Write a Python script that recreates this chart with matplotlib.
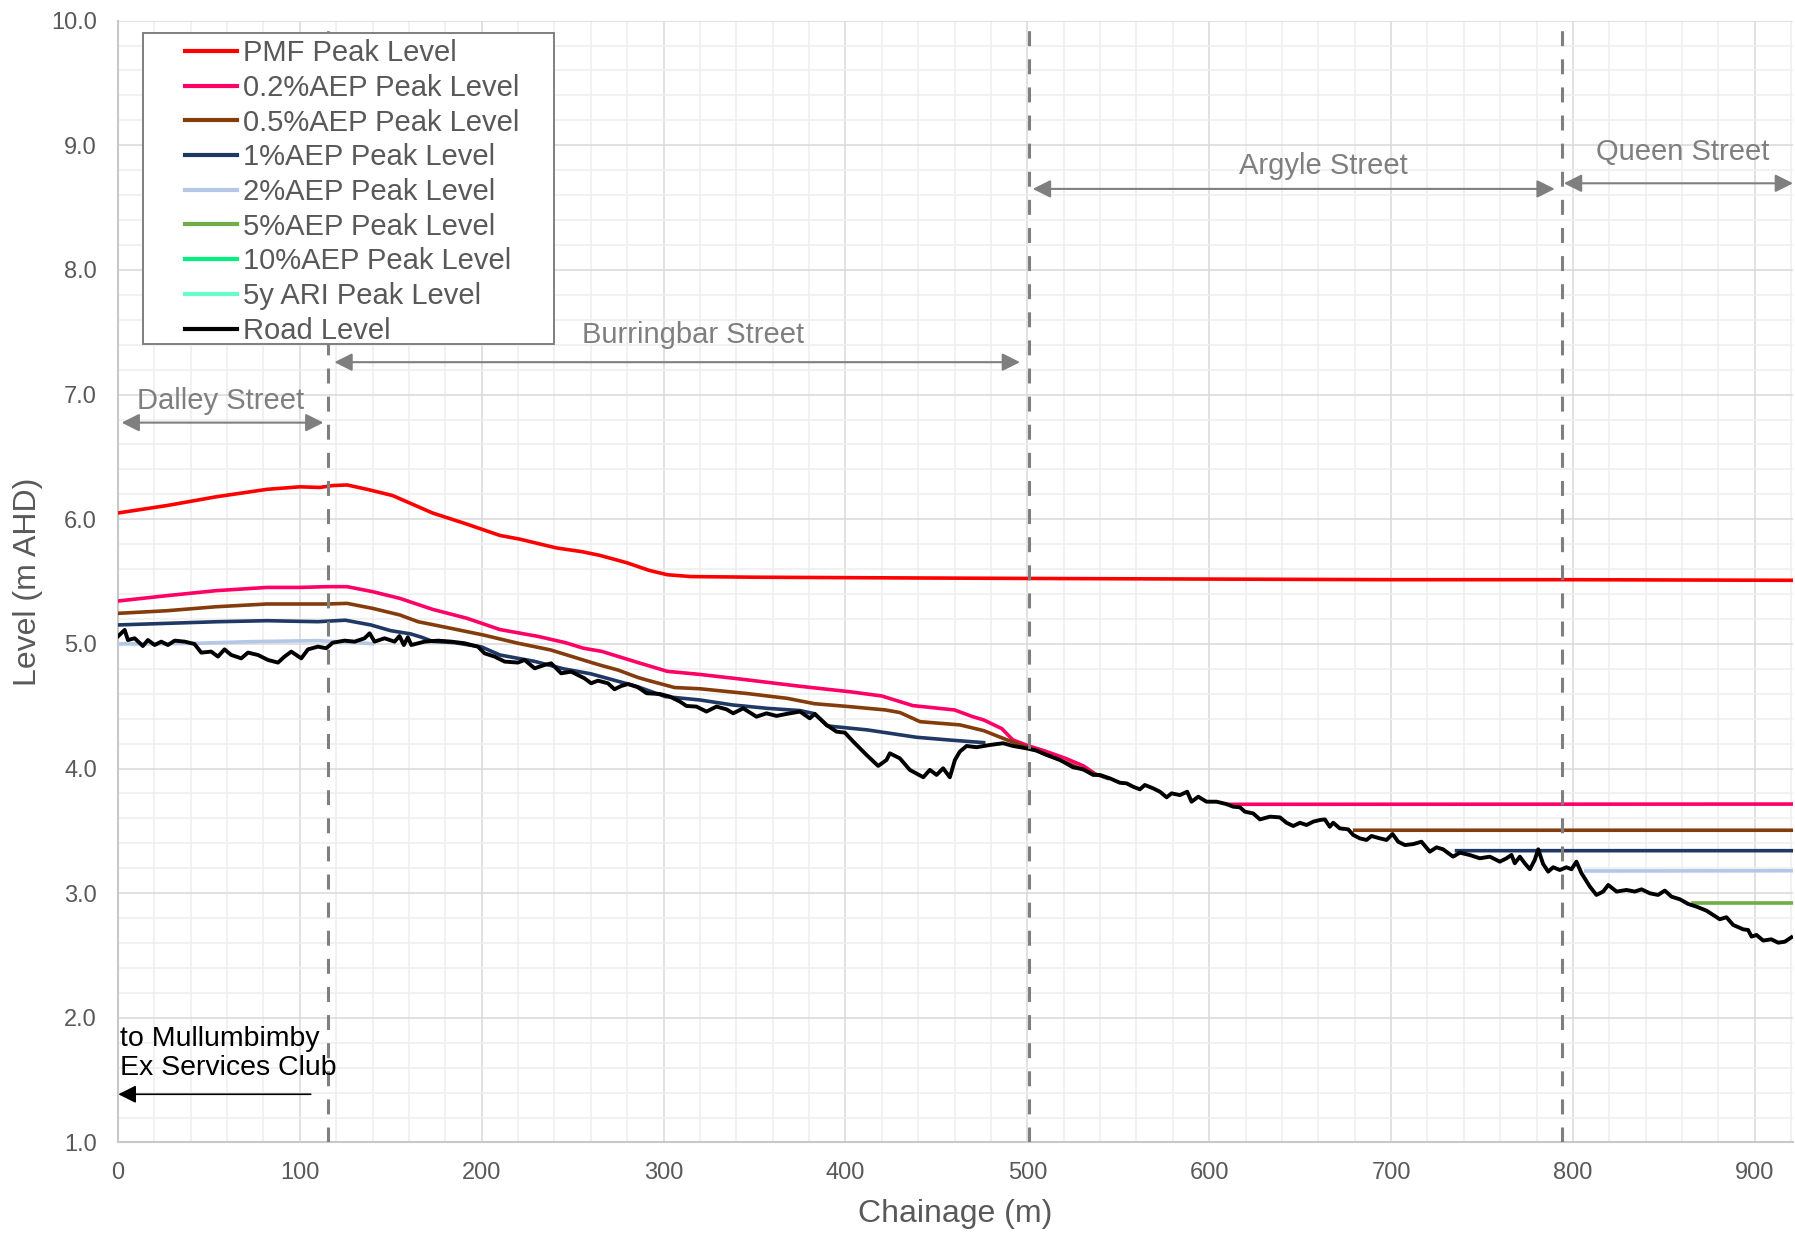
import numpy as np
import matplotlib
matplotlib.use('Agg')
import matplotlib.pyplot as plt
from matplotlib.ticker import MultipleLocator, FormatStrFormatter
from matplotlib.patches import Rectangle
from matplotlib.lines import Line2D

plt.rcParams['font.family'] = ['Liberation Sans', 'DejaVu Sans']

nan = np.nan

# chainage (m) / level (m AHD); nan = break in the line
pmf_x = [0, 27, 54, 82, 100, 111, 118, 126, 137, 151, 162, 173, 192, 210, 221, 241, 255, 265, 280, 292, 302, 315,
         350, 420, 500, 600, 700, 800, 921]
pmf_y = [6.05, 6.11, 6.18, 6.24, 6.26, 6.255, 6.27, 6.275, 6.24, 6.19, 6.12, 6.05, 5.96, 5.87, 5.84, 5.77, 5.74,
         5.71, 5.65, 5.59, 5.555, 5.54, 5.535, 5.53, 5.525, 5.52, 5.515, 5.515, 5.51]

aep02_x = [0, 27, 54, 82, 100, 115, 126, 140, 155, 173, 192, 210, 231, 246, 256, 266, 286, 302, 320, 341, 375, 403,
           420, 437, 460, 470, 476, 486, 492, 501, 509, 521, 531, 537, 573, 610, 921]
aep02_y = [5.344, 5.387, 5.427, 5.453, 5.453, 5.459, 5.459, 5.419, 5.365, 5.277, 5.205, 5.115, 5.06, 5.01, 4.965,
           4.94, 4.85, 4.78, 4.755, 4.72, 4.66, 4.615, 4.582, 4.505, 4.47, 4.416, 4.39, 4.32, 4.23, 4.18, 4.144,
           4.082, 4.02, 3.96, nan, 3.713, 3.715]

aep05_x = [0, 27, 54, 82, 100, 115, 126, 140, 155, 165, 183, 201, 220, 238, 256, 265, 275, 286, 292, 306, 320, 347,
           368, 383, 402, 422, 430, 441, 463, 476, 489, 498, 505, 518, 530, 544, 610, 680, 921]
aep05_y = [5.245, 5.266, 5.298, 5.32, 5.32, 5.32, 5.325, 5.285, 5.232, 5.178, 5.125, 5.071, 5.005, 4.951, 4.87,
           4.83, 4.79, 4.73, 4.705, 4.65, 4.64, 4.60, 4.563, 4.52, 4.497, 4.47, 4.449, 4.376, 4.35, 4.304, 4.229,
           4.18, 4.144, 4.069, 3.994, 3.922, nan, 3.505, 3.505]

aep1_x = [0, 55, 82, 110, 125, 139, 150, 161, 167, 173, 185, 200, 210, 229, 245, 260, 269, 285, 301, 320, 338, 357,
          375, 383, 390, 412, 439, 457, 476, 600, 736, 921]
aep1_y = [5.152, 5.178, 5.186, 5.178, 5.19, 5.152, 5.106, 5.08, 5.053, 5.02, 5.01, 4.975, 4.911, 4.86, 4.80, 4.76,
          4.724, 4.66, 4.577, 4.55, 4.51, 4.483, 4.465, 4.44, 4.342, 4.31, 4.251, 4.229, 4.208, nan, 3.341, 3.341]

aep2_x = [0, 20, 44, 73, 110, 137, 140, 500, 807, 921]
aep2_y = [5.0, 5.0, 5.005, 5.018, 5.026, 5.005, 5.0, nan, 3.178, 3.18]

aep5_x = [866, 921]
aep5_y = [2.918, 2.918]

aep10_x = []
aep10_y = []

ari5_x = []
ari5_y = []

road_x = [0, 1.8, 3.7, 5.5, 9.2, 13.7, 16.5, 20.2, 23.8, 27.5, 31.2, 36.7, 42.1, 45.8, 51.3, 55, 58.6, 62.3, 67.8,
          71.5, 77, 82.5, 88, 91.6, 95.3, 100.8, 104.5, 110, 114.5, 118.2, 124.6, 130.1, 135.6, 138.4, 141.1, 146.6,
          152.1, 154.8, 157.2, 159.4, 161.3, 168.6, 175.9, 183.3, 190.6, 197.9, 201.6, 207.1, 212.6, 219.9, 223.6,
          229.1, 234.6, 238.2, 243.7, 249.2, 256.5, 260.2, 263.9, 269.4, 273, 276.7, 280.4, 285.9,
          290.7, 298, 303.5, 309, 312.6, 318.1, 323.6, 329.1, 334.6, 338.3, 343.8, 351.1, 356.6, 362.1, 367.6, 375,
          380.4, 383.2, 389.6, 395.1, 399.7, 404.3, 411.6, 418, 422.6, 424.4, 429.9, 435.4, 442.8, 446.4, 450.1,
          453.7, 457.4, 460.2, 462.9, 466.6, 472.1, 479.4, 486.7, 492.2, 499.6, 505, 510.6, 517.9, 525.2, 530.7,
          536.2, 540, 545.4, 550.9, 554.6, 558.2, 561.9, 564.6, 569.2, 572.9, 576.6, 579.3, 583.9, 587.9, 590.3,
          594, 598.5, 604, 609.5, 613.2, 616.9, 619.6, 624.2, 627.9, 633.4, 638.9, 642.5, 646.2, 649.9, 653.5,
          657.2, 660.8, 663.6, 666.3, 668.2, 671.8, 676.4, 679.2, 682.8, 686.5, 689.2, 693.8, 697.5, 700.8, 703.9,
          707.6, 712.2, 716.7, 721.3, 725, 728.6, 734.1, 737.8, 743.3, 748.8, 754.3, 759.8, 763.5, 766.2, 768,
          770.8, 773.5, 776.3, 779, 780.9, 783.6, 786.4, 789.1, 792.8, 796.4, 799.2, 801.9, 804.7, 809.3, 812.9,
          816.6, 819.4, 824, 829.4, 834, 837.7, 842.3, 846.8, 850.5, 854.2, 858.8, 863.3, 867.9, 873.4, 877.1,
          880.7, 884.4, 888.1, 893.6, 896.3, 898.2, 900.9, 904.6, 909.1, 912.8, 916.5, 920.1]
road_y = [5.06, 5.085, 5.112, 5.031, 5.045, 4.983, 5.031, 4.991, 5.018, 4.991, 5.026, 5.018, 4.999, 4.93, 4.938,
          4.898, 4.956, 4.911, 4.884, 4.93, 4.911, 4.871, 4.85, 4.898, 4.938, 4.884, 4.956, 4.978, 4.965, 5.01,
          5.026, 5.018, 5.045, 5.085, 5.018, 5.045, 5.018, 5.063, 4.991, 5.053, 4.991, 5.018, 5.026, 5.018, 5.005,
          4.978, 4.924, 4.898, 4.858, 4.85, 4.871, 4.804, 4.831, 4.844, 4.764, 4.777, 4.724, 4.684, 4.705, 4.684,
          4.636, 4.662, 4.678, 4.652,
          4.604, 4.598, 4.577, 4.537, 4.502, 4.497, 4.457, 4.497, 4.475, 4.443, 4.483, 4.416, 4.443, 4.422, 4.438,
          4.457, 4.403, 4.438, 4.35, 4.296, 4.288, 4.216, 4.109, 4.021, 4.069, 4.122, 4.082, 3.989, 3.93, 3.989,
          3.949, 4.002, 3.93, 4.069, 4.136, 4.181, 4.171, 4.189, 4.203, 4.181, 4.162, 4.144, 4.109, 4.069, 4.01,
          3.994, 3.949, 3.948, 3.921, 3.886, 3.881, 3.854, 3.833, 3.868, 3.841, 3.814, 3.769, 3.801, 3.787, 3.814,
          3.734, 3.774, 3.734, 3.734, 3.715, 3.694, 3.689, 3.654, 3.64, 3.592, 3.614, 3.608, 3.565, 3.539, 3.565,
          3.547, 3.574, 3.587, 3.592, 3.533, 3.565, 3.52, 3.512, 3.467, 3.44, 3.427, 3.459, 3.44, 3.427, 3.475,
          3.413, 3.386, 3.394, 3.413, 3.333, 3.368, 3.352, 3.293, 3.325, 3.306, 3.28, 3.293, 3.253, 3.28, 3.307,
          3.24, 3.293, 3.24, 3.192, 3.267, 3.352, 3.234, 3.173, 3.208, 3.186, 3.208, 3.192, 3.253, 3.16, 3.053,
          2.986, 3.013, 3.066, 3.013, 3.026, 3.013, 3.031, 2.999, 2.986, 3.021, 2.972, 2.951, 2.914, 2.892, 2.86,
          2.825, 2.791, 2.807, 2.745, 2.71, 2.705, 2.652, 2.665, 2.62, 2.63, 2.603, 2.611, 2.646]

series = [
    ('PMF Peak Level', pmf_x, pmf_y, '#FF0000'),
    ('0.2%AEP Peak Level', aep02_x, aep02_y, '#FF0066'),
    ('0.5%AEP Peak Level', aep05_x, aep05_y, '#843C0C'),
    ('1%AEP Peak Level', aep1_x, aep1_y, '#1F3864'),
    ('2%AEP Peak Level', aep2_x, aep2_y, '#B4C7E7'),
    ('5%AEP Peak Level', aep5_x, aep5_y, '#70AD47'),
    ('10%AEP Peak Level', aep10_x, aep10_y, '#00F080'),
    ('5y ARI Peak Level', ari5_x, ari5_y, '#66FFCC'),
    ('Road Level', road_x, road_y, '#000000'),
]

# street boundaries (dashed) and street spans
boundaries = [115.5, 501, 794]
streets = ['Dalley Street', 'Burringbar Street', 'Argyle Street', 'Queen Street']
street_from = [2, 119, 503, 795]
street_to = [113, 496, 790, 921]
street_arrow_y = [6.775, 7.26, 8.65, 8.695]
street_text_x = [56.6, 316, 662.6, 860.5]
street_text_y = [6.95, 7.48, 8.835, 8.95]

grey = '#7F7F7F'
txt = '#595959'

fig = plt.figure(figsize=(17.95, 12.35), dpi=100)
ax = fig.add_subplot(111)
fig.subplots_adjust(left=0.0657, right=0.9989, top=0.9833, bottom=0.0749)

handles = []
for name, xs, ys, col in series:
    lw = 2.8 if name == 'Road Level' else 2.6
    zo = 4 if name == 'Road Level' else 3
    ax.plot(np.array(xs, dtype=float), np.array(ys, dtype=float), color=col, lw=lw, zorder=zo,
            solid_joinstyle='round', label=name)
    handles.append(Line2D([], [], color=col, lw=3.0))

for b in boundaries:
    ax.axvline(b, color=grey, lw=2.2, linestyle=(0, (4.9, 4.3)), zorder=5)

for name, x0, x1, ya, tx, ty in zip(streets, street_from, street_to, street_arrow_y, street_text_x, street_text_y):
    ax.annotate('', xy=(x1, ya), xytext=(x0, ya),
                arrowprops=dict(arrowstyle='<|-|>,head_length=0.6,head_width=0.3', color=grey, lw=1.5,
                                mutation_scale=18, shrinkA=0, shrinkB=0),
                annotation_clip=False, zorder=6)
    ax.text(tx, ty, name, color=grey, fontsize=21, ha='center', va='center', zorder=6)

ax.text(1.2, 1.716, 'to Mullumbimby\nEx Services Club', color='black', fontsize=20.5, ha='left', va='center',
        linespacing=1.15, zorder=6)
ax.annotate('', xy=(0.2, 1.387), xytext=(106, 1.387),
            arrowprops=dict(arrowstyle='-|>,head_length=0.6,head_width=0.3', color='black', lw=1.2,
                            mutation_scale=18, shrinkA=0, shrinkB=0), zorder=6)

ax.set_xlim(0, 921)
ax.set_ylim(1.0, 10.0)
ax.xaxis.set_major_locator(MultipleLocator(100))
ax.xaxis.set_minor_locator(MultipleLocator(20))
ax.yaxis.set_major_locator(MultipleLocator(1.0))
ax.yaxis.set_minor_locator(MultipleLocator(0.2))
ax.yaxis.set_major_formatter(FormatStrFormatter('%.1f'))
ax.grid(which='major', color='#D9D9D9', lw=1.1, zorder=0)
ax.grid(which='minor', color='#EEEEEE', lw=1.1, zorder=0)
ax.set_axisbelow(True)

ax.tick_params(which='both', length=0)
ax.tick_params(axis='x', labelsize=17, labelcolor=txt, pad=14)
ax.tick_params(axis='y', labelsize=17, labelcolor=txt, pad=15)
for s in ['top', 'right']:
    ax.spines[s].set_visible(False)
for s in ['left', 'bottom']:
    ax.spines[s].set_color('#C8C8C8')
    ax.spines[s].set_linewidth(1.5)

ax.set_xlabel('Chainage (m)', fontsize=23, color=txt, labelpad=11)
ax.set_ylabel('Level (m AHD)', fontsize=23, color=txt, labelpad=6)

frame = Rectangle((0.0147, 0.7115), 0.2456, 0.2772, transform=ax.transAxes, facecolor='white',
                  edgecolor=grey, lw=1.4, zorder=7)
ax.add_patch(frame)
leg = ax.legend(handles, [s[0] for s in series], loc='upper left', bbox_to_anchor=(0.0399, 0.9835),
                frameon=False, fontsize=21, labelspacing=0.23, handlelength=1.8, handletextpad=0.2,
                borderpad=0, borderaxespad=0)
leg.set_zorder(8)
for t in leg.get_texts():
    t.set_color(txt)

fig.savefig('out.png', dpi=100)
